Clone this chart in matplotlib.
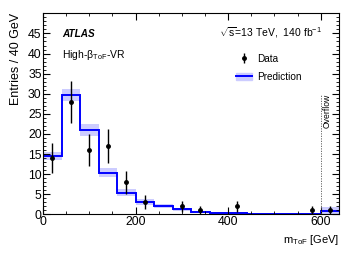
import matplotlib
matplotlib.use("Agg")
import matplotlib.pyplot as plt
import numpy as np
from matplotlib.lines import Line2D
from matplotlib.patches import Patch
from matplotlib.ticker import MultipleLocator

plt.rcParams['font.family'] = ['Liberation Sans', 'DejaVu Sans']
plt.rcParams['mathtext.fontset'] = 'custom'
plt.rcParams['mathtext.rm'] = 'Liberation Sans'
plt.rcParams['mathtext.it'] = 'Liberation Sans:italic'
plt.rcParams['mathtext.bf'] = 'Liberation Sans:bold'

# bin edges (GeV), last bin is overflow
edges = [0, 40, 80, 120, 160, 200, 240, 280, 320, 360, 400, 440, 480, 520, 560, 600, 640]
pred = [14.4, 29.7, 21.0, 10.4, 5.4, 3.0, 2.0, 1.2, 0.65, 0.45, 0.35, 0.2, 0.15, 0.12, 0.1, 0.9]
pred_unc = [1.0, 1.5, 1.4, 1.0, 0.9, 0.7, 0.5, 0.35, 0.25, 0.2, 0.2, 0.15, 0.12, 0.1, 0.1, 1.0]

data_x = [20, 60, 100, 140, 180, 220, 300, 340, 420, 580, 620]
data_y = [14, 28, 16, 17, 8, 3, 2, 1, 2, 1, 1]

edges = np.array(edges)
pred = np.array(pred)
pred_unc = np.array(pred_unc)
data_y = np.array(data_y)

fig = plt.figure(figsize=(3.57, 2.62), dpi=100)
ax = fig.add_axes([0.1204, 0.182, 0.83, 0.767])

# prediction band + line
lo = np.append(pred - pred_unc, (pred - pred_unc)[-1])
hi = np.append(pred + pred_unc, (pred + pred_unc)[-1])
ax.fill_between(edges, lo, hi, step='post', color='#ccccff', lw=0)
ax.stairs(pred, edges, color='#0000ff', lw=1.4, baseline=None)

# data
h_data = ax.errorbar(data_x, data_y, yerr=np.sqrt(data_y), fmt='o', color='black',
                     ms=2.5, elinewidth=1.0, capsize=0)

# overflow marker
ax.plot([600, 600], [0, 30], ls=(0, (1.5, 1.5)), color='#555555', lw=0.6)
ax.text(614, 30, 'Overflow', rotation=90, ha='center', va='top', fontsize=6.2)

ax.set_xlim(0, 640)
ax.set_ylim(0, 50)
ax.set_yticks(range(0, 50, 5))
ax.xaxis.set_major_locator(MultipleLocator(200))
ax.xaxis.set_minor_locator(MultipleLocator(50))
ax.yaxis.set_minor_locator(MultipleLocator(1))
ax.tick_params(which='both', direction='in', top=True, right=True, labelsize=8.8, pad=1)
ax.tick_params(which='major', length=5)
ax.tick_params(which='minor', length=2.5)

ax.set_ylabel('Entries / 40 GeV', fontsize=9, loc='top')
ax.set_xlabel(r'm$_{\mathrm{ToF}}$ [GeV]', fontsize=8, loc='right')

ax.text(0.064, 0.897, 'ATLAS', transform=ax.transAxes, fontsize=7.2,
        fontweight='bold', fontstyle='italic', va='center')
ax.text(0.064, 0.795, r'High-β$_{\mathrm{ToF}}$-VR', transform=ax.transAxes,
        fontsize=7.5, va='center')
ax.text(0.94, 0.902, r'$\sqrt{\mathrm{s}}$=13 TeV,  140 fb$^{-1}$',
        transform=ax.transAxes, fontsize=7.5, ha='right', va='center')

h_pred = (Patch(color='#ccccff'), Line2D([], [], color='#0000ff', lw=1.4))
ax.legend([h_data, h_pred], ['Data', 'Prediction'], loc='upper left',
          bbox_to_anchor=(0.62, 0.845), frameon=False, fontsize=7.2,
          handlelength=1.6, handletextpad=0.5, labelspacing=0.8)

fig.savefig('out.png', dpi=100)
